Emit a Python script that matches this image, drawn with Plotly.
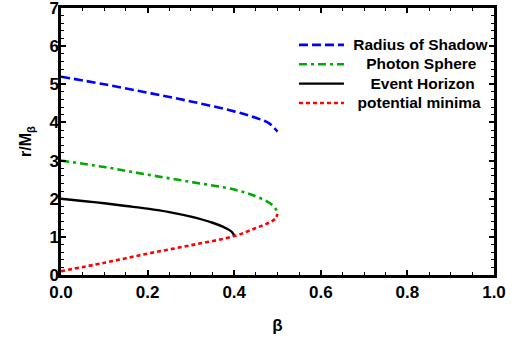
import plotly.graph_objects as go

# ---- data ----
beta_shadow = [0.0, 0.1, 0.2, 0.3, 0.4, 0.45, 0.48, 0.5]
r_shadow = [5.2, 5.0, 4.78, 4.55, 4.29, 4.12, 3.98, 3.76]

beta_photon = [0.0, 0.1, 0.2, 0.3, 0.4, 0.45, 0.48, 0.495, 0.5]
r_photon = [3.0, 2.83, 2.63, 2.44, 2.24, 2.06, 1.9, 1.75, 1.6]

beta_horizon = [0.0, 0.05, 0.1, 0.15, 0.2, 0.25, 0.3, 0.35, 0.375, 0.39, 0.398, 0.4]
r_horizon = [2.0, 1.94, 1.88, 1.81, 1.74, 1.65, 1.53, 1.37, 1.26, 1.17, 1.08, 1.02]

beta_minima = [0.0, 0.1, 0.2, 0.3, 0.4, 0.45, 0.48, 0.495, 0.5]
r_minima = [0.1, 0.32, 0.56, 0.78, 1.02, 1.23, 1.37, 1.48, 1.6]

series_names = ["Radius of Shadow", "Photon Sphere", "Event Horizon", "potential minima"]
x_ticks = [0.0, 0.2, 0.4, 0.6, 0.8, 1.0]
y_ticks = [0, 1, 2, 3, 4, 5, 6, 7]

FONT = "Liberation Sans"
NB = "\u00a0"
# leading non-breaking spaces roughly centre the legend labels as in the reference
legend_pad = [1, 4, 5, 2]


def legend_label(name, pad):
    return f"<span style='font-size:15.5px'>{NB * pad}{name}</span>"


styles = [
    dict(color="#0000ff", width=2.6, dash="9px,4px"),
    dict(color="#00aa00", width=2.6, dash="8px,4px,3px,4px"),
    dict(color="#000000", width=2.4),
    dict(color="#ff0000", width=2.6, dash="4px,3px"),
]
xs = [beta_shadow, beta_photon, beta_horizon, beta_minima]
ys = [r_shadow, r_photon, r_horizon, r_minima]

fig = go.Figure()
for x, y, name, pad, st in zip(xs, ys, series_names, legend_pad, styles):
    fig.add_trace(go.Scatter(x=x, y=y, mode="lines", name=legend_label(name, pad),
                             line=dict(shape="spline", **st)))

axis_common = dict(
    showline=True, linecolor="black", linewidth=2.5, mirror="allticks",
    ticks="inside", ticklen=5, tickwidth=1.5, tickcolor="black",
    showgrid=False, zeroline=False, automargin=False,
    ticklabeloverflow="allow",
    tickfont=dict(family=FONT, size=17, color="black", weight=700),
)

fig.update_xaxes(range=[0, 1], tickvals=x_ticks, ticktext=[f"{v:.1f}" for v in x_ticks],
                 minor=dict(ticks="inside", dtick=0.05, ticklen=3, tickwidth=1.2, tickcolor="black"),
                 title=dict(text="β", font=dict(family=FONT, size=17, color="black", weight=700), standoff=18),
                 **axis_common)
fig.update_yaxes(range=[0, 7], tickvals=y_ticks, ticktext=[f"{v}" for v in y_ticks],
                 minor=dict(ticks="inside", dtick=0.2, ticklen=3, tickwidth=1.2, tickcolor="black"),
                 ticklabelstandoff=-4,
                 title=dict(text="r/M<sub>β</sub>", font=dict(family=FONT, size=16, color="black", weight=700), standoff=14),
                 **axis_common)

fig.update_layout(
    width=520, height=343,
    margin=dict(l=61, r=26, t=8, b=68, autoexpand=False),
    plot_bgcolor="white", paper_bgcolor="white",
    font=dict(family=FONT, color="black", weight=700),
    legend=dict(x=0.538, y=0.917, xanchor="left", yanchor="top",
                bgcolor="rgba(0,0,0,0)", borderwidth=0,
                font=dict(family=FONT, size=12.6, color="black", weight=700),
                itemwidth=45, tracegroupgap=0),
    showlegend=True,
)

fig.write_html("out.html", config={"displayModeBar": False},
               post_script="document.body.style.margin='0';document.body.style.padding='0';")
